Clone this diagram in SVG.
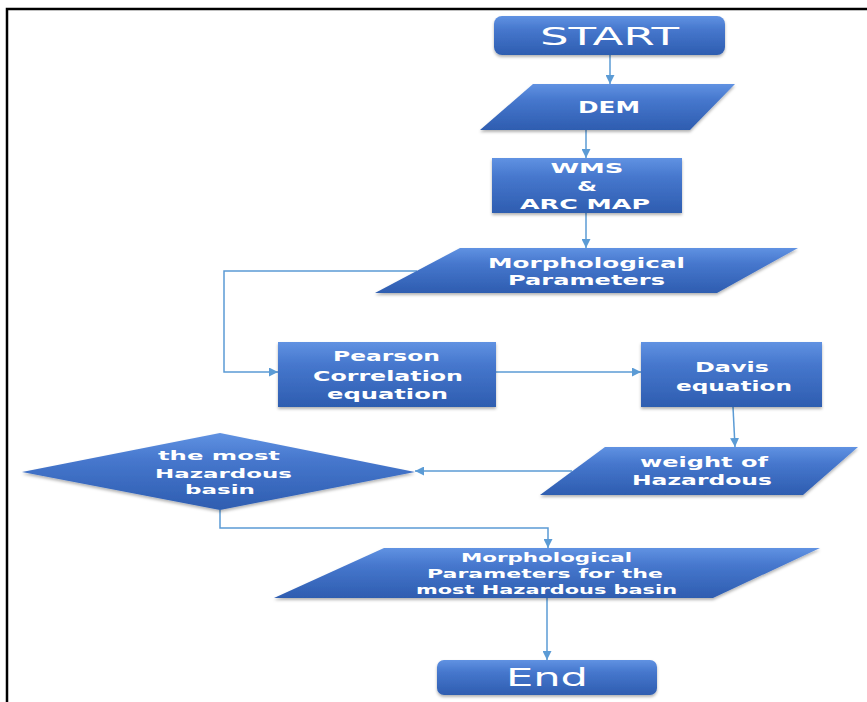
<svg xmlns="http://www.w3.org/2000/svg" width="867" height="702" viewBox="0 0 867 702">
<style>
.lbl{font-family:"DejaVu Sans",Verdana,sans-serif;font-weight:bold;fill:#ffffff;text-anchor:middle;}
.big{font-family:"DejaVu Sans",Verdana,sans-serif;fill:#ffffff;text-anchor:middle;}
.shape{fill:url(#g);filter:url(#sh);}
.conn{fill:none;stroke:#5b9bd5;stroke-width:1.5;}
</style>
<defs>
<linearGradient id="g" x1="0" y1="0" x2="0" y2="1">
<stop offset="0" stop-color="#6092e2"/>
<stop offset="0.35" stop-color="#4677cd"/>
<stop offset="1" stop-color="#2e5db0"/>
</linearGradient>
<filter id="sh" x="-10%" y="-10%" width="120%" height="130%">
<feDropShadow dx="0" dy="2" stdDeviation="1.5" flood-color="#000" flood-opacity="0.3"/>
</filter>
<marker id="a" viewBox="0 0 10 10" refX="10" refY="5" markerWidth="9" markerHeight="9" markerUnits="userSpaceOnUse" orient="auto">
<path d="M0,0 L10,5 L0,10 z" fill="#5b9bd5"/>
</marker>
</defs>
<rect width="867" height="702" fill="#ffffff"/>
<path d="M7,702 V9 H867" fill="none" stroke="#000" stroke-width="2.5"/>

<g id="connectors">
<path class="conn" marker-end="url(#a)" d="M610,55 V84"/>
<path class="conn" marker-end="url(#a)" d="M586,130 V158"/>
<path class="conn" marker-end="url(#a)" d="M586,213 V248"/>
<path class="conn" marker-end="url(#a)" d="M417,271 H224 V372 H278"/>
<path class="conn" marker-end="url(#a)" d="M496,372 H641"/>
<path class="conn" marker-end="url(#a)" d="M733,407 L735,447"/>
<path class="conn" marker-end="url(#a)" d="M572,471 H415"/>
<path class="conn" marker-end="url(#a)" d="M220,510 V528 H548 V548"/>
<path class="conn" marker-end="url(#a)" d="M547,598 V660"/>
</g>

<g id="start">
<rect class="shape" x="494" y="16" width="231" height="39" rx="8"/>
<text class="big" x="609.5" y="45" font-size="24" textLength="139" lengthAdjust="spacingAndGlyphs">START</text>
</g>
<g id="dem">
<polygon class="shape" points="533,84 735,84 690,130 480,130"/>
<text class="lbl" x="609" y="113" font-size="15" textLength="62" lengthAdjust="spacingAndGlyphs">DEM</text>
</g>
<g id="wms">
<rect class="shape" x="492" y="158" width="190" height="55"/>
<text class="lbl" x="587" y="173" font-size="14" textLength="73" lengthAdjust="spacingAndGlyphs">WMS</text>
<text class="lbl" x="587" y="191" font-size="14" textLength="20" lengthAdjust="spacingAndGlyphs">&amp;</text>
<text class="lbl" x="585" y="209" font-size="14" textLength="130" lengthAdjust="spacingAndGlyphs">ARC MAP</text>
</g>
<g id="morph">
<polygon class="shape" points="460,248 798,248 717,293 375,293"/>
<text class="lbl" x="586.5" y="268" font-size="14" textLength="197" lengthAdjust="spacingAndGlyphs">Morphological</text>
<text class="lbl" x="586.5" y="285" font-size="14" textLength="157" lengthAdjust="spacingAndGlyphs">Parameters</text>
</g>
<g id="pearson">
<rect class="shape" x="278" y="342" width="218" height="65"/>
<text class="lbl" x="386.5" y="361" font-size="14" textLength="107" lengthAdjust="spacingAndGlyphs">Pearson</text>
<text class="lbl" x="388" y="381" font-size="14" textLength="150" lengthAdjust="spacingAndGlyphs">Correlation</text>
<text class="lbl" x="387.5" y="399" font-size="14" textLength="121" lengthAdjust="spacingAndGlyphs">equation</text>
</g>
<g id="davis">
<rect class="shape" x="641" y="342" width="181" height="65"/>
<text class="lbl" x="732" y="372" font-size="14" textLength="74" lengthAdjust="spacingAndGlyphs">Davis</text>
<text class="lbl" x="734" y="391" font-size="14" textLength="116" lengthAdjust="spacingAndGlyphs">equation</text>
</g>
<g id="weight">
<polygon class="shape" points="605,447 858,447 803,495 540,495"/>
<text class="lbl" x="704" y="467" font-size="14" textLength="128" lengthAdjust="spacingAndGlyphs">weight of</text>
<text class="lbl" x="702" y="485" font-size="14" textLength="140" lengthAdjust="spacingAndGlyphs">Hazardous</text>
</g>
<g id="decision">
<polygon class="shape" points="220,433 415,472 220,510 22,472"/>
<text class="lbl" x="219" y="460" font-size="13" textLength="122" lengthAdjust="spacingAndGlyphs">the most</text>
<text class="lbl" x="223.5" y="478" font-size="13" textLength="137" lengthAdjust="spacingAndGlyphs">Hazardous</text>
<text class="lbl" x="220" y="494" font-size="13" textLength="70" lengthAdjust="spacingAndGlyphs">basin</text>
</g>
<g id="morph2">
<polygon class="shape" points="384,548 820,548 713,598 274,598"/>
<text class="lbl" x="546.5" y="562" font-size="12.5" textLength="171" lengthAdjust="spacingAndGlyphs">Morphological</text>
<text class="lbl" x="545" y="578" font-size="12.5" textLength="236" lengthAdjust="spacingAndGlyphs">Parameters  for the</text>
<text class="lbl" x="546.5" y="594" font-size="12.5" textLength="261" lengthAdjust="spacingAndGlyphs">most Hazardous basin</text>
</g>
<g id="end">
<rect class="shape" x="437" y="660" width="220" height="35" rx="7"/>
<text class="big" x="547" y="686" font-size="24" textLength="82" lengthAdjust="spacingAndGlyphs">End</text>
</g>
</svg>
